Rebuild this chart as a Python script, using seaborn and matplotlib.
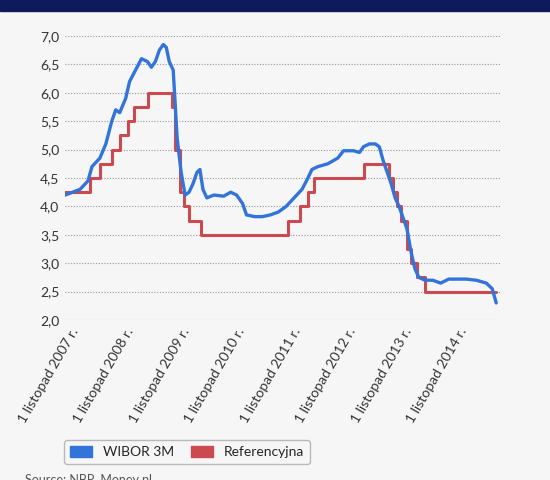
import matplotlib
matplotlib.use("Agg")
import matplotlib.pyplot as plt
import seaborn as sns
from matplotlib.patches import Rectangle, Patch

ref_year = [2007.74, 2008.19, 2008.37, 2008.58, 2008.73, 2008.87, 2008.98, 2009.23, 2009.66, 2009.73,
            2009.82, 2009.89, 2009.98, 2010.19, 2011.76, 2011.98, 2012.12, 2012.23, 2013.12, 2013.58,
            2013.65, 2013.73, 2013.80, 2013.90, 2013.98, 2014.08, 2014.23, 2015.51]
ref_rate = [4.25, 4.5, 4.75, 5.0, 5.25, 5.5, 5.75, 6.0, 5.75, 5.0,
            4.25, 4.0, 3.75, 3.5, 3.75, 4.0, 4.25, 4.5, 4.75, 4.5,
            4.25, 4.0, 3.75, 3.25, 3.0, 2.75, 2.5, 2.5]

wib_px = [65, 80, 88, 92, 100, 106, 112, 116, 120, 126, 130, 136, 142, 148, 152, 156, 160, 164, 167, 170,
          174, 176, 178, 182, 186, 190, 194, 198, 201, 204, 208, 215, 225, 232, 238, 244, 248, 256, 264, 272,
          280, 288, 296, 304, 310, 314, 320, 330, 340, 346, 356, 362, 366, 372, 378, 382, 386, 390, 394, 398,
          402, 406, 410, 414, 418, 422, 428, 436, 444, 452, 460, 470, 480, 490, 496, 500]
wib_rate = [4.2, 4.3, 4.45, 4.7, 4.85, 5.1, 5.5, 5.7, 5.65, 5.9, 6.2, 6.4, 6.6, 6.55, 6.45, 6.55, 6.75, 6.85, 6.8, 6.55,
            6.4, 5.8, 5.2, 4.6, 4.2, 4.25, 4.4, 4.6, 4.65, 4.3, 4.15, 4.2, 4.18, 4.25, 4.2, 4.05, 3.85, 3.82, 3.82, 3.85,
            3.9, 4.0, 4.15, 4.3, 4.5, 4.65, 4.7, 4.75, 4.85, 4.98, 4.98, 4.95, 5.05, 5.1, 5.1, 5.05, 4.8, 4.6, 4.4, 4.15,
            4.0, 3.8, 3.6, 3.2, 2.9, 2.75, 2.7, 2.7, 2.65, 2.72, 2.72, 2.72, 2.7, 2.65, 2.55, 2.3]
wib_year = [2007.833 + (p - 70) / 56 for p in wib_px]

tick_years = [2007.833 + k for k in range(8)]
tick_labels = [f"1 listopad {y} r." for y in range(2007, 2015)]
y_ticks = [2.0, 2.5, 3.0, 3.5, 4.0, 4.5, 5.0, 5.5, 6.0, 6.5, 7.0]

sns.set_theme(style="white")
plt.rcParams['font.family'] = ['Lato', 'DejaVu Sans']

fig = plt.figure(figsize=(5.5, 4.8), dpi=100, facecolor="#f6f6f6")
ax = fig.add_axes([65/550, 1-320/480, 435/550, 284/480])
ax.set_facecolor("#f6f6f6")
fig.patches.append(Rectangle((0, 1-11/480), 1, 11/480, transform=fig.transFigure, color="#0d1a5c", zorder=0))

sns.lineplot(x=ref_year, y=ref_rate, ax=ax, color="#cc4a4f", lw=2.2, drawstyle="steps-post", label="Referencyjna")
sns.lineplot(x=wib_year, y=wib_rate, ax=ax, color="#3274d9", lw=2.4, label="WIBOR 3M", sort=False)

ax.set_ylim(2.0, 7.0)
ax.set_xlim(2007.74, 2015.58)
ax.set_yticks(y_ticks)
ax.set_yticklabels([f"{v:.1f}".replace(".", ",") for v in y_ticks], fontsize=10, color="#333333")
ax.set_xticks(tick_years)
ax.set_xticklabels(tick_labels, rotation=60, ha="right", rotation_mode="anchor", fontsize=10, color="#333333")
ax.grid(axis="y", linestyle=(0, (1, 1.5)), color="#999999", lw=0.8)
for s in ax.spines.values():
    s.set_visible(False)
ax.tick_params(length=0, pad=4)
ax.set_xlabel(""); ax.set_ylabel("")

handles = [Patch(color="#3274d9", label="WIBOR 3M"), Patch(color="#cc4a4f", label="Referencyjna")]
ax.legend(handles=handles, loc="center left", bbox_to_anchor=(-8/435, -(452-320)/284), ncol=2,
          frameon=True, fontsize=10, handlelength=1.6, handleheight=0.9, columnspacing=1.2,
          edgecolor="#aaaaaa", facecolor="#f6f6f6")
fig.text(25/550, 1-474/480, "Source: NBP, Money.pl", fontsize=9, color="#555555", va="top")

fig.savefig("out.png", dpi=100, facecolor=fig.get_facecolor())
